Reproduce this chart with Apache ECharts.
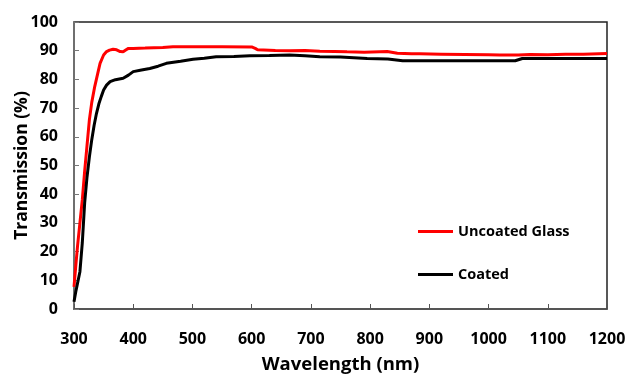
<!DOCTYPE html>
<html><head><meta charset="utf-8">
<script src="https://cdn.jsdelivr.net/npm/echarts@6/dist/echarts.min.js"></script>
<style>html,body{margin:0;padding:0;background:#fff}#c{width:629px;height:374px}</style>
</head><body><div id="c"></div>
<script>
var xTicks = [300,400,500,600,700,800,900,1000,1100,1200];
var yTicks = [0,10,20,30,40,50,60,70,80,90,100];
var wlUncoated = [300,303,306,310,314,318,322,326,330,335,340,344,350,355,360,366,372,378,383,388,392,400,420,450,467,500,550,600,606,610,640,664,690,715,740,761,790,829,846,870,884,920,960,1000,1019,1050,1070,1100,1130,1160,1200];
var uncoated = [7.7,15,22,30,38,48,57,66,72,77.5,82,85.6,88.5,89.7,90.2,90.5,90.3,89.7,89.6,90.3,90.8,90.8,90.9,91.1,91.4,91.4,91.4,91.3,90.8,90.3,90.1,90.0,90.1,89.8,89.7,89.6,89.5,89.7,89.1,88.9,88.9,88.8,88.7,88.6,88.5,88.5,88.7,88.6,88.8,88.8,89.0];
var wlCoated = [300,303,306,310,314,318,322,326,330,334,338,342,346,350,355,361,370,383,392,400,414,428,442,456,480,501,520,540,570,597,630,664,690,715,750,795,830,855,900,950,1000,1045,1057,1100,1150,1200];
var coated = [2.5,6,9,13,23,37,46,53,59,64,68.2,71.5,74,76.3,78,79.2,79.9,80.4,81.5,82.7,83.3,83.8,84.6,85.6,86.3,87,87.4,87.9,88,88.2,88.3,88.5,88.2,87.9,87.8,87.3,87.1,86.5,86.5,86.5,86.5,86.5,87.3,87.3,87.3,87.3];
function zip(a,b){return a.map(function(v,i){return [v,b[i]];});}
var chart = echarts.init(document.getElementById('c'), null, {renderer:'canvas'});
var font = 'Open Sans';
chart.setOption({
  animation:false,
  grid:{left:74,right:22,top:22,bottom:65,containLabel:false,outerBoundsMode:'none',show:true,borderColor:'#222',borderWidth:1.5},
  legend:{
    orient:'vertical', left:413, top:219, itemGap:28, itemWidth:35, itemHeight:3,
    textStyle:{fontFamily:font,fontWeight:'bold',fontSize:14.5,color:'#000'},
    data:[{name:'Uncoated Glass',icon:'rect'},{name:'Coated',icon:'rect'}]
  },
  xAxis:{
    type:'value', min:300, max:1200, interval:100,
    name:'Wavelength (nm)', nameLocation:'middle', nameGap:46, nameMoveOverlap:false,
    nameTextStyle:{fontFamily:font,fontWeight:'bold',fontSize:18.5,color:'#000'},
    axisLine:{lineStyle:{color:'#555',width:1.5}},
    axisTick:{inside:true,length:5,lineStyle:{color:'#555'}},
    axisLabel:{fontFamily:font,fontWeight:'bold',fontSize:16,color:'#000',margin:22,
      formatter:function(v){return String(v);}},
    splitLine:{show:false}
  },
  yAxis:{
    type:'value', min:0, max:100, interval:10,
    name:'Transmission (%)', nameLocation:'middle', nameGap:43, nameMoveOverlap:false,
    nameTextStyle:{fontFamily:font,fontWeight:'bold',fontSize:17.5,color:'#000'},
    axisLine:{show:true,lineStyle:{color:'#777',width:1.5}},
    axisTick:{show:true,inside:true,length:5,lineStyle:{color:'#777'}},
    axisLabel:{fontFamily:font,fontWeight:'bold',fontSize:16,color:'#000',margin:16,
      formatter:function(v){return String(v);}},
    splitLine:{show:false}
  },
  series:[
    {name:'Uncoated Glass',type:'line',data:zip(wlUncoated,uncoated),showSymbol:false,
     lineStyle:{color:'#ff0000',width:3},itemStyle:{color:'#ff0000'}},
    {name:'Coated',type:'line',data:zip(wlCoated,coated),showSymbol:false,
     lineStyle:{color:'#000',width:3},itemStyle:{color:'#000'}}
  ]
});
</script></body></html>
